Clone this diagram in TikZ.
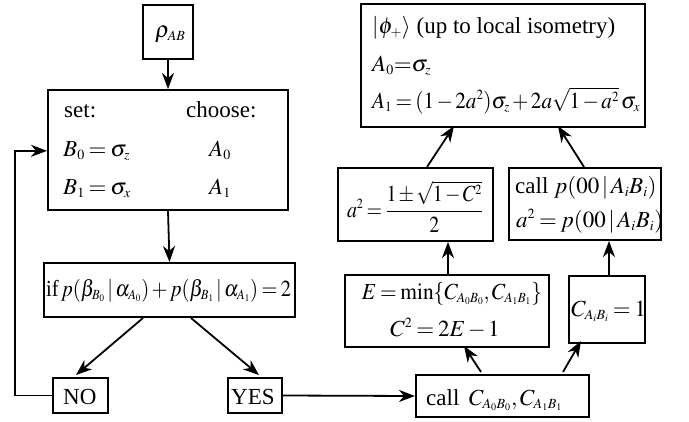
\documentclass[tikz,border=0pt]{standalone}
\usepackage[no-math]{fontspec}
\usepackage{mathptmx}
\usepackage{graphicx}
\setmainfont{Liberation Serif}
\DeclareMathSizes{23}{23}{14}{10}
\usetikzlibrary{arrows.meta,calc}
\begin{document}
\begin{tikzpicture}[x=1pt,y=-1pt,
  bx/.style={draw=black,line width=2pt,inner sep=0pt},
  arr/.style={line width=1.8pt,-{Stealth[length=16pt,width=12pt,inset=5pt]}},
  txt/.style={inner sep=0pt,anchor=base west}]
\useasboundingbox (0,0) rectangle (689,421);
\tikzset{every node/.append style={font=\fontsize{23}{27}\selectfont}}
\thickmuskip=3mu plus 1mu\medmuskip=2mu plus 1mu\thinmuskip=2mu
% boxes
\node[bx,minimum width=50pt,minimum height=54pt] (rho) at (168,31.5) {};
\node[txt] (rhot) at (155,37) {$\rho_{AB}$};
\node[bx,minimum width=240pt,minimum height=120pt] (set) at (168,150) {};
\node[txt] (s1) at (64,117) {set:};
\node[txt] (s2) at (186,117) {choose:};
\node[txt] (s3) at (63,156) {$B_0=\sigma_z$};
\node[txt] (s4) at (63,194) {$B_1=\sigma_x$};
\node[txt] (s5) at (209,156) {$A_0$};
\node[txt] (s6) at (209,194) {$A_1$};
\node[bx,minimum width=251pt,minimum height=54pt] (if) at (169.5,290) {};
\node[txt] (ift) at (46,296) {\resizebox{245pt}{\height}{if$\,p(\beta_{B_0}\,|\,\alpha_{A_0})+p(\beta_{B_1}\,|\,\alpha_{A_1})=2$}};
\node[bx,minimum width=55pt,minimum height=35pt] (no) at (80.5,395.5) {};
\node[txt] (not) at (63,404) {NO};
\node[bx,minimum width=54pt,minimum height=35pt] (yes) at (255,395.5) {};
\node[txt] (yest) at (231,404) {YES};
\node[bx,minimum width=173pt,minimum height=42pt] (call) at (502.5,396) {};
\node[txt] (callt) at (426,405) {call $\;C_{A_0B_0},C_{A_1B_1}$};
\node[bx,minimum width=204pt,minimum height=72pt] (E) at (447,311) {};
\node[txt,anchor=base] (E1) at (452,299) {\resizebox{180pt}{\height}{$E=\min\{C_{A_0B_0},C_{A_1B_1}\}$}};
\node[txt,anchor=base] (E2) at (445,336) {$C^2=2E-1$};
\node[bx,minimum width=76pt,minimum height=67pt] (C) at (607,309.5) {};
\node[txt] (Ct) at (571,316) {$C_{A_iB_i}=1$};
\node[bx,minimum width=155pt,minimum height=73pt] (a) at (415.5,204.5) {};
\node[inner sep=0pt] (at) at (415,207) {\resizebox{136pt}{\height}{$a^2=\displaystyle\frac{1\pm\sqrt{1-C^2}}{2}$}};
\node[bx,minimum width=152pt,minimum height=72pt] (p) at (585,204) {};
\node[txt] (p1) at (515,193) {call $p(00\,|\,A_iB_i)$};
\node[txt] (p2) at (516,227) {$a^2=p(00\,|\,A_iB_i)$};
\node[bx,minimum width=284pt,minimum height=123pt] (top) at (503,65.5) {};
\node[txt] (t1) at (372,33) {$|\phi_+\rangle$ (up to local isometry)};
\node[txt] (t2) at (372,71) {$A_0{=}\sigma_z$};
\node[txt] (t3) at (372,108) {\resizebox{268pt}{\height}{$A_1=(1-2a^2)\sigma_z+2a\sqrt{1-a^2}\,\sigma_x$}};
% connectors
\draw[arr] (rho.south) -- (set.north);
\draw[arr] (set.south) -- (if.north);
\draw[arr] ($(if.south west)+(100,0)$) -- ($(no.north west)+(24,-2)$);
\draw[arr] ($(if.south west)+(148,0)$) -- ($(yes.north west)+(32,-2)$);
\draw[arr] (no.west) -- ++(-37,0) |- (set.west |- s3.center);
\draw[arr] (yes.east) -- (call.west);
\draw[arr] ($(call.north west)+(66,-2)$) -- ($(E.south west)+(120,-2)$);
\draw[arr] ($(call.north west)+(148,-2)$) -- ($(C.south west)+(13,-3)$);
\draw[arr] (E.north -| 448,0) -- (a.south -| 448,0);
\draw[arr] (C.north -| 609,0) -- (p.south -| 609,0);
\draw[arr] ($(a.north west)+(90,0)$) -- ($(top.south west)+(94,-2)$);
\draw[arr] ($(p.north west)+(76,0)$) -- ($(top.south west)+(198,-2)$);
\end{tikzpicture}
\end{document}
